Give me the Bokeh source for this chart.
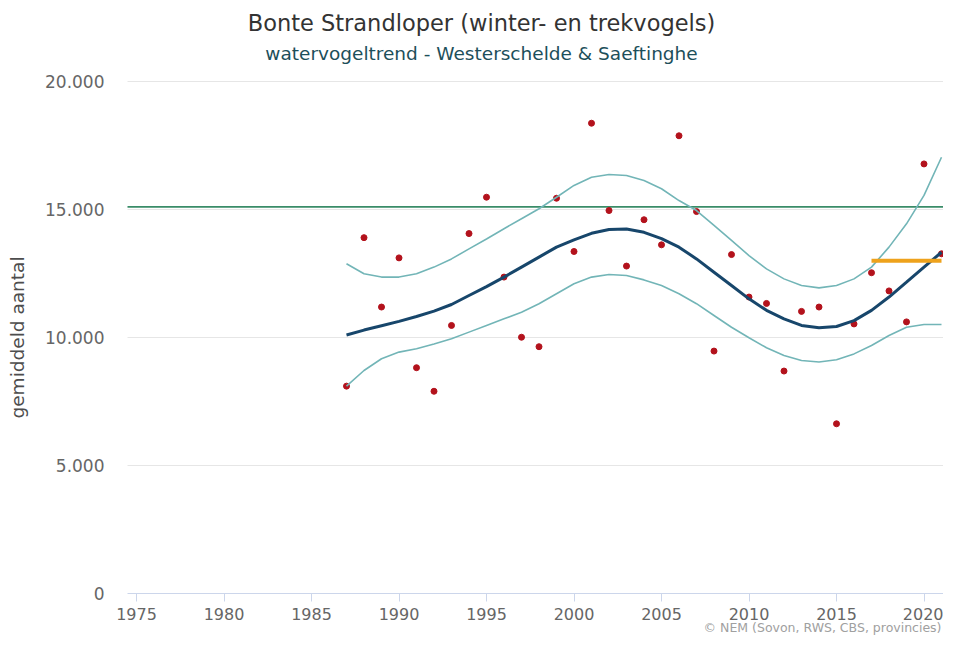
from bokeh.plotting import figure
from bokeh.models import Label, FixedTicker, Range1d, LinearAxis
from bokeh.embed import file_html
from bokeh.resources import INLINE

# ---------------- data ----------------
years = list(range(1987, 2022))
counts = [8100, 13900, 11190, 13110, 8820, 7900, 10470, 14060, 15480, 12360,
          10010, 9640, 15440, 13360, 18370, 14960, 12790, 14600, 13620, 17880,
          14920, 9470, 13240, 11580, 11330, 8690, 11020, 11190, 6630, 10530,
          12530, 11820, 10610, 16780, 13270]
trend = [10100, 10290, 10460, 10630, 10820, 11030, 11290, 11640, 11990, 12360,
         12750, 13140, 13530, 13810, 14070, 14220, 14240, 14110, 13860, 13530,
         13070, 12550, 12030, 11510, 11060, 10730, 10470, 10380, 10430, 10660,
         11060, 11580, 12160, 12750, 13330]
upper = [12880, 12490, 12360, 12360, 12490, 12750, 13070, 13460, 13850, 14250,
         14640, 15030, 15480, 15940, 16260, 16370, 16330, 16130, 15810, 15350,
         14960, 14380, 13790, 13200, 12680, 12290, 12030, 11940, 12030, 12290,
         12750, 13530, 14440, 15550, 17040]
lower = [8100, 8710, 9170, 9430, 9560, 9750, 9950, 10210, 10470, 10730,
         10990, 11320, 11710, 12100, 12360, 12460, 12420, 12250, 12030, 11710,
         11320, 10860, 10400, 9990, 9600, 9300, 9100, 9040, 9130, 9360,
         9690, 10080, 10400, 10510, 10510]
reference_level = 15100
last_n = 5  # five-year mean shown in orange

x_ticks = [1975, 1980, 1985, 1990, 1995, 2000, 2005, 2010, 2015, 2020]
y_ticks = [0, 5000, 10000, 15000, 20000]
y_tick_labels = ["0", "5.000", "10.000", "15.000", "20.000"]

title_text = "Bonte Strandloper (winter- en trekvogels)"
subtitle_text = "watervogeltrend - Westerschelde & Saeftinghe"
y_label = "gemiddeld aantal"
credit_text = "\u00a9 NEM (Sovon, RWS, CBS, provincies)"

FONT = "DejaVu Sans"

# ---------------- layout (pixels -> data) ----------------
W, H = 943, 637
px_per_year = 17.5
x_1975_px = 136
x_start = 1975 - x_1975_px / px_per_year
x_end = x_start + W / px_per_year
plot_left = x_start + 127 / px_per_year

y_zero_px, y_top_px, y_top_val = 593, 81, 20000
px_per_unit = (y_zero_px - y_top_px) / y_top_val
y_start = -(H - y_zero_px) / px_per_unit
y_end = y_zero_px / px_per_unit


def ypx(py):
    return (y_zero_px - py) / px_per_unit


def xpx(px):
    return x_start + px / px_per_year


p = figure(width=W, height=H, output_backend="svg", toolbar_location=None,
           x_range=Range1d(x_start, x_end), y_range=Range1d(y_start, y_end),
           x_axis_location=None, y_axis_location=None,
           min_border=0, min_border_left=0, min_border_right=0,
           min_border_top=0, min_border_bottom=0)
p.outline_line_color = None
p.background_fill_color = "white"
p.border_fill_color = "white"
p.grid.visible = False

# horizontal grid lines (value lines)
grid_vals = [t for t in y_ticks if t > 0]
p.segment(x0=[plot_left] * len(grid_vals), y0=grid_vals,
          x1=[x_end] * len(grid_vals), y1=grid_vals,
          line_color="#e6e6e6", line_width=1)

# axes drawn at fixed locations inside the canvas
xaxis = LinearAxis(fixed_location=0, bounds=(plot_left, x_end),
                   ticker=FixedTicker(ticks=x_ticks))
xaxis.axis_line_color = "#ccd6eb"
xaxis.major_tick_line_color = "#ccd6eb"
xaxis.major_tick_out = 8
xaxis.major_tick_in = 0
xaxis.minor_tick_line_color = None
xaxis.major_label_text_font = FONT
xaxis.major_label_text_font_size = "16px"
xaxis.major_label_text_color = "#666666"
xaxis.major_label_standoff = 6
p.add_layout(xaxis, "below")

yaxis = LinearAxis(fixed_location=plot_left, bounds=(0, y_top_val),
                   ticker=FixedTicker(ticks=y_ticks))
yaxis.major_label_overrides = {t: l for t, l in zip(y_ticks, y_tick_labels)}
yaxis.axis_line_color = None
yaxis.major_tick_line_color = None
yaxis.minor_tick_line_color = None
yaxis.major_tick_out = 0
yaxis.major_tick_in = 0
yaxis.major_label_text_font = FONT
yaxis.major_label_text_font_size = "17px"
yaxis.major_label_text_color = "#666666"
yaxis.major_label_standoff = 23
yaxis.axis_label = y_label
yaxis.axis_label_text_font = FONT
yaxis.axis_label_text_font_size = "18.5px"
yaxis.axis_label_text_font_style = "normal"
yaxis.axis_label_text_color = "#4d4d4d"
yaxis.axis_label_standoff = 14
p.add_layout(yaxis, "left")

# reference level
p.segment(x0=[plot_left], y0=[reference_level], x1=[x_end], y1=[reference_level],
          line_color="#3a8c68", line_width=1.8)

# points
p.scatter(years, counts, size=6, color="#b3121c", line_color="#b3121c")

# bands and trend
p.line(years, upper, line_color="#72b5b7", line_width=1.6)
p.line(years, lower, line_color="#72b5b7", line_width=1.6)
p.line(years, trend, line_color="#17466b", line_width=3)

# five-year mean
recent_years = years[-last_n:]
recent_mean = sum(counts[-last_n:]) / last_n
p.line([recent_years[0], recent_years[-1]], [recent_mean, recent_mean],
       line_color="#eea21c", line_width=4)

# titles and credit
title_x = xpx(481)
p.add_layout(Label(x=title_x, y=ypx(22), text=title_text, text_font=FONT,
                   text_font_size="22.5px", text_color="#333333",
                   text_align="center", text_baseline="middle"))
p.add_layout(Label(x=title_x, y=ypx(53), text=subtitle_text, text_font=FONT,
                   text_font_size="18.5px", text_color="#1d4f5a",
                   text_align="center", text_baseline="middle"))
p.add_layout(Label(x=xpx(941), y=ypx(627), text=credit_text, text_font=FONT,
                   text_font_size="12.5px", text_color="#a0a0a0",
                   text_align="right", text_baseline="middle"))

open("out.html", "w").write(file_html(p, INLINE))
